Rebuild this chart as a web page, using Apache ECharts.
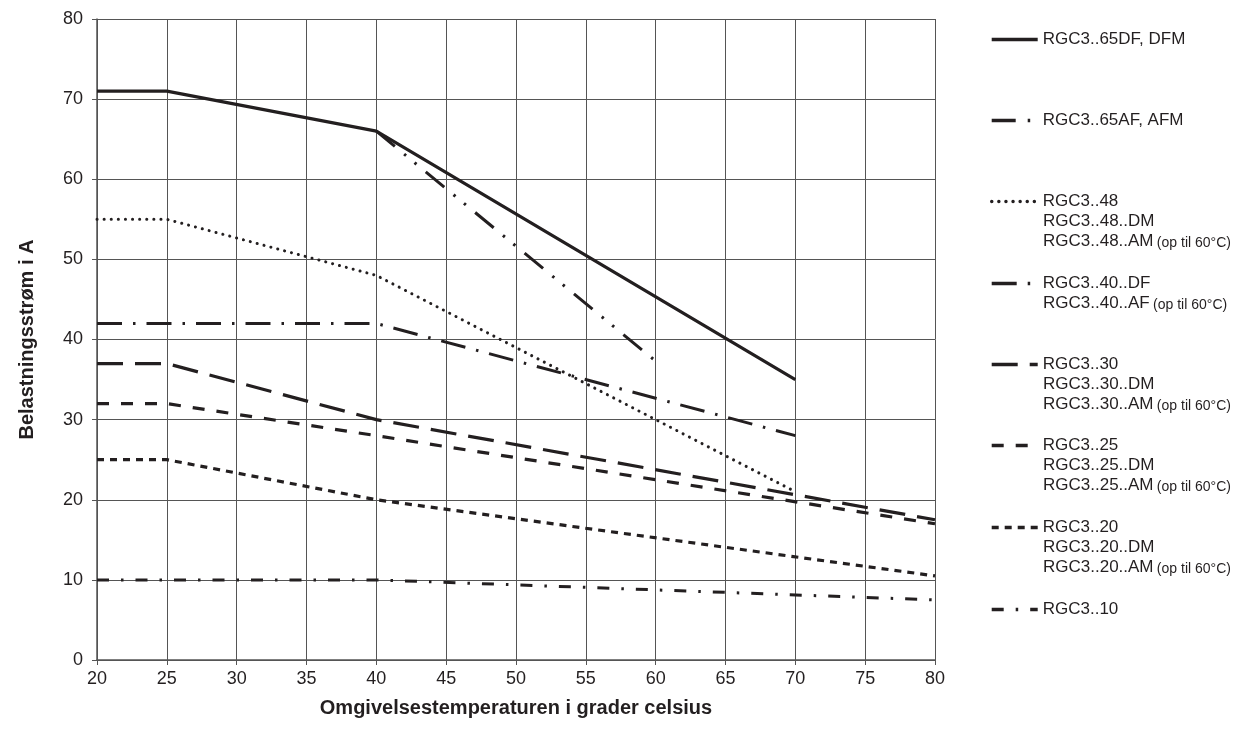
<!DOCTYPE html>
<html>
<head>
<meta charset="utf-8">
<script src="https://cdn.jsdelivr.net/npm/echarts@6/dist/echarts.min.js"></script>
<style>html,body{margin:0;padding:0;background:#fff}#c{width:1250px;height:738px}</style>
</head>
<body>
<div id="c"></div>
<script>
// ---- data ----
const xAxisTitle = 'Omgivelsestemperaturen i grader celsius';
const yAxisTitle = 'Belastningsstrøm i A';
const seriesNames = ['RGC3..65DF, DFM', 'RGC3..65AF, AFM', 'RGC3..48', 'RGC3..40..DF', 'RGC3..30', 'RGC3..25', 'RGC3..20', 'RGC3..10'];
const extraLines = [[], [], ['RGC3..48..DM', 'RGC3..48..AM'], ['RGC3..40..AF'], ['RGC3..30..DM', 'RGC3..30..AM'], ['RGC3..25..DM', 'RGC3..25..AM'], ['RGC3..20..DM', 'RGC3..20..AM'], []];
const noteText = '(op til 60°C)';
const hasNote = [false, false, true, true, true, true, true, false];

const x_65DF = [20, 25, 40, 70], y_65DF = [71, 71, 66, 35];
const x_65AF = [40, 60],         y_65AF = [66, 37.3];
const x_48   = [20, 25, 40, 70], y_48   = [55, 55, 48, 21];
const x_40   = [20, 25, 40, 70], y_40   = [42, 42, 42, 28];
const x_30   = [20, 25, 40, 80], y_30   = [37, 37, 30, 17.5];
const x_25   = [20, 25, 40, 80], y_25   = [32, 32, 28, 17];
const x_20   = [20, 25, 40, 80], y_20   = [25, 25, 20, 10.5];
const x_10   = [20, 25, 40, 80], y_10   = [10, 10, 10, 7.5];

const xsAll = [x_65DF, x_65AF, x_48, x_40, x_30, x_25, x_20, x_10];
const ysAll = [y_65DF, y_65AF, y_48, y_40, y_30, y_25, y_20, y_10];

// ---- styles ----
const FONT = '"Liberation Sans", Arial, Helvetica, sans-serif';
const INK = '#231f20';
const lineStyles = [
  {width: 3.2, type: 'solid'},
  {width: 3, type: [24, 12, 2.5, 11, 2.5, 12]},
  {width: 3, type: [0.1, 7], cap: 'round'},
  {width: 3, type: [25, 11, 2.5, 11]},
  {width: 3.2, type: [26, 12]},
  {width: 3.2, type: [12, 12]},
  {width: 3.2, type: [7, 6]},
  {width: 3, type: [12, 12, 2.5, 12]}
];
const legendCenters = [41, 122, 203, 285, 366, 447, 529, 611];
const mainSize = 17, noteSize = 14, lineStep = 20;

const series = seriesNames.map((n, i) => ({
  name: n, type: 'line', symbol: 'none', silent: true, animation: false,
  data: xsAll[i].map((x, k) => [x, ysAll[i][k]]),
  lineStyle: Object.assign({color: INK}, lineStyles[i]),
  z: 10 - i
}));

const legends = seriesNames.map((n, i) => ({
  data: [n], orient: 'vertical', left: 990, top: legendCenters[i] - 10,
  padding: 0, itemWidth: 46, itemHeight: 20, selectedMode: false,
  itemStyle: {color: 'transparent', borderWidth: 0, opacity: 0},
  lineStyle: {width: 3.4},
  textStyle: {fontFamily: FONT, fontSize: mainSize, color: INK}
}));

const graphics = [];
extraLines.forEach((lines, i) => {
  lines.forEach((t, k) => {
    const last = k === lines.length - 1 && hasNote[i];
    graphics.push({
      type: 'text', left: 1043, top: legendCenters[i] + lineStep * (k + 1) - 10,
      style: {
        text: last ? '{a|' + t + '} {b|' + noteText + '}' : '{a|' + t + '}',
        rich: {
          a: {fontFamily: FONT, fontSize: mainSize, fill: INK, height: 20},
          b: {fontFamily: FONT, fontSize: noteSize, fill: INK, height: 20, padding: [4, 0, 0, 0]}
        }
      }
    });
  });
});

const chart = echarts.init(document.getElementById('c'), null, {renderer: 'canvas'});
chart.setOption({
  backgroundColor: '#fff',
  animation: false,
  grid: {left: 97, right: 315, top: 19, bottom: 78, containLabel: false},
  xAxis: {
    type: 'value', min: 20, max: 80, interval: 5,
    name: xAxisTitle, nameLocation: 'middle', nameGap: 38,
    nameTextStyle: {fontFamily: FONT, fontSize: 20, fontWeight: 'bold', color: INK},
    axisLine: {show: true, lineStyle: {color: '#555', width: 1.5}},
    axisTick: {show: true, length: 5, lineStyle: {color: '#555'}},
    axisLabel: {fontFamily: FONT, fontSize: 18, color: INK, margin: 10},
    splitLine: {show: true, lineStyle: {color: '#555', width: 1}}
  },
  yAxis: {
    type: 'value', min: 0, max: 80, interval: 10,
    name: yAxisTitle, nameLocation: 'middle', nameGap: 60, nameRotate: 90,
    nameTextStyle: {fontFamily: FONT, fontSize: 20, fontWeight: 'bold', color: INK},
    axisLine: {show: true, lineStyle: {color: '#555', width: 1.5}},
    axisTick: {show: true, length: 5, lineStyle: {color: '#555'}},
    axisLabel: {fontFamily: FONT, fontSize: 18, color: INK, margin: 14},
    splitLine: {show: true, lineStyle: {color: '#555', width: 1}}
  },
  legend: legends,
  graphic: graphics,
  series: series
});
</script>
</body>
</html>
